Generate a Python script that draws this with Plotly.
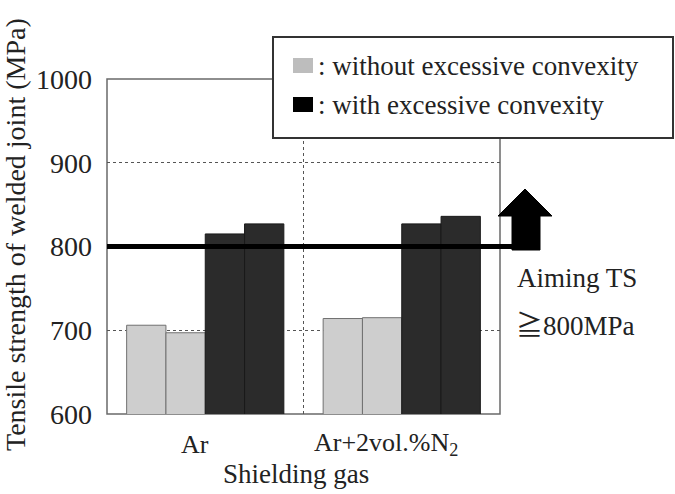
import plotly.graph_objects as go

categories = [0, 1]
cat_labels = ["Ar", "Ar+2vol.%N<sub>2</sub>"]
without_1 = [706, 714]
without_2 = [697, 715]
with_1 = [815, 827]
with_2 = [827, 836]
y_ticks = [600, 700, 800, 900, 1000]
aim_ts = 800

FONT = "Liberation Serif"
TXT = "#222222"

L, R, T, B = 107, 175, 79, 80
W, H = 675, 494
PW = W - L - R
PH = H - T - B


def px(x):
    return (x - L) / PW


def py(y):
    return (H - B - y) / PH


def yv(y):
    return 600 + (414 - y) / (PH / 400)


fig = go.Figure()
light = dict(color="#cecece", line=dict(color="#707070", width=1))
dark = dict(color="#2b2b2b", line=dict(color="#1a1a1a", width=1))
for vals, mk in [(without_1, light), (without_2, light), (with_1, dark), (with_2, dark)]:
    fig.add_trace(go.Bar(x=categories, y=vals, base=0, marker=mk, showlegend=False))

shapes = []
shapes.append(dict(type="rect", xref="paper", yref="paper", x0=0, x1=1, y0=0, y1=1,
                   line=dict(color="#6a6a6a", width=1.5), layer="below"))
shapes.append(dict(type="line", xref="x", yref="paper", x0=0.5, x1=0.5, y0=0, y1=1,
                   line=dict(color="#555555", width=1, dash="dot"), layer="below"))
shapes.append(dict(type="line", xref="paper", yref="y", x0=0, x1=px(540), y0=aim_ts, y1=aim_ts,
                   line=dict(color="black", width=5), layer="above"))
ax = [px(512), px(512), px(498), px(525), px(552), px(540), px(540)]
ay = [yv(250), yv(216), yv(216), yv(189), yv(216), yv(216), yv(250)]
path = "M " + " L ".join(f"{a},{b}" for a, b in zip(ax, ay)) + " Z"
shapes.append(dict(type="path", xref="paper", yref="y", path=path,
                   fillcolor="black", line=dict(color="black", width=1), layer="above"))
shapes.append(dict(type="rect", xref="paper", yref="paper", x0=px(273), x1=px(673), y0=py(138), y1=py(37),
                   fillcolor="white", line=dict(color="#333333", width=2), layer="above"))
shapes.append(dict(type="rect", xref="paper", yref="paper", x0=px(293), x1=px(313), y0=py(73), y1=py(58),
                   fillcolor="#bdbdbd", line=dict(width=0), layer="above"))
shapes.append(dict(type="rect", xref="paper", yref="paper", x0=px(293), x1=px(313), y0=py(112), y1=py(97),
                   fillcolor="#000000", line=dict(width=0), layer="above"))

ann = []


def add(text, x, y, xa="left", size=26, angle=0):
    ann.append(dict(text=text, x=px(x), y=py(y), xref="paper", yref="paper",
                    xanchor=xa, yanchor="middle", showarrow=False, textangle=angle,
                    font=dict(family=FONT, size=size, color=TXT)))


add(": without excessive convexity", 316, 66, size=27)
add(": with excessive convexity", 316, 105, size=27)
add("Aiming TS", 515, 278, size=27)
add("<span style='font-family:Noto Sans CJK JP'>≧</span>800MPa", 514, 323, size=27)
add(cat_labels[0], 195, 444, "center", size=26)
add(cat_labels[1], 386, 444, "center", size=26)
add("Shielding gas", 296, 474, "center", size=27)
add("Tensile strength of welded joint (MPa)", 15, 235, "center", size=28, angle=-90)

fig.update_layout(
    width=W, height=H,
    margin=dict(l=L, r=R, t=T, b=B),
    paper_bgcolor="white", plot_bgcolor="white",
    barmode="group", bargap=0.2, bargroupgap=0,
    shapes=shapes, annotations=ann,
    xaxis=dict(range=[-0.5, 1.5], showticklabels=False, showgrid=False, zeroline=False,
               showline=False, ticks=""),
    yaxis=dict(range=[600, 1000], tickvals=y_ticks, showgrid=True, gridcolor="#555555",
               griddash="dot", gridwidth=1, zeroline=False, showline=False, ticks="",
               ticklabelstandoff=14,
               tickfont=dict(family=FONT, size=28, color=TXT)),
)

fig.write_html("out.html")
